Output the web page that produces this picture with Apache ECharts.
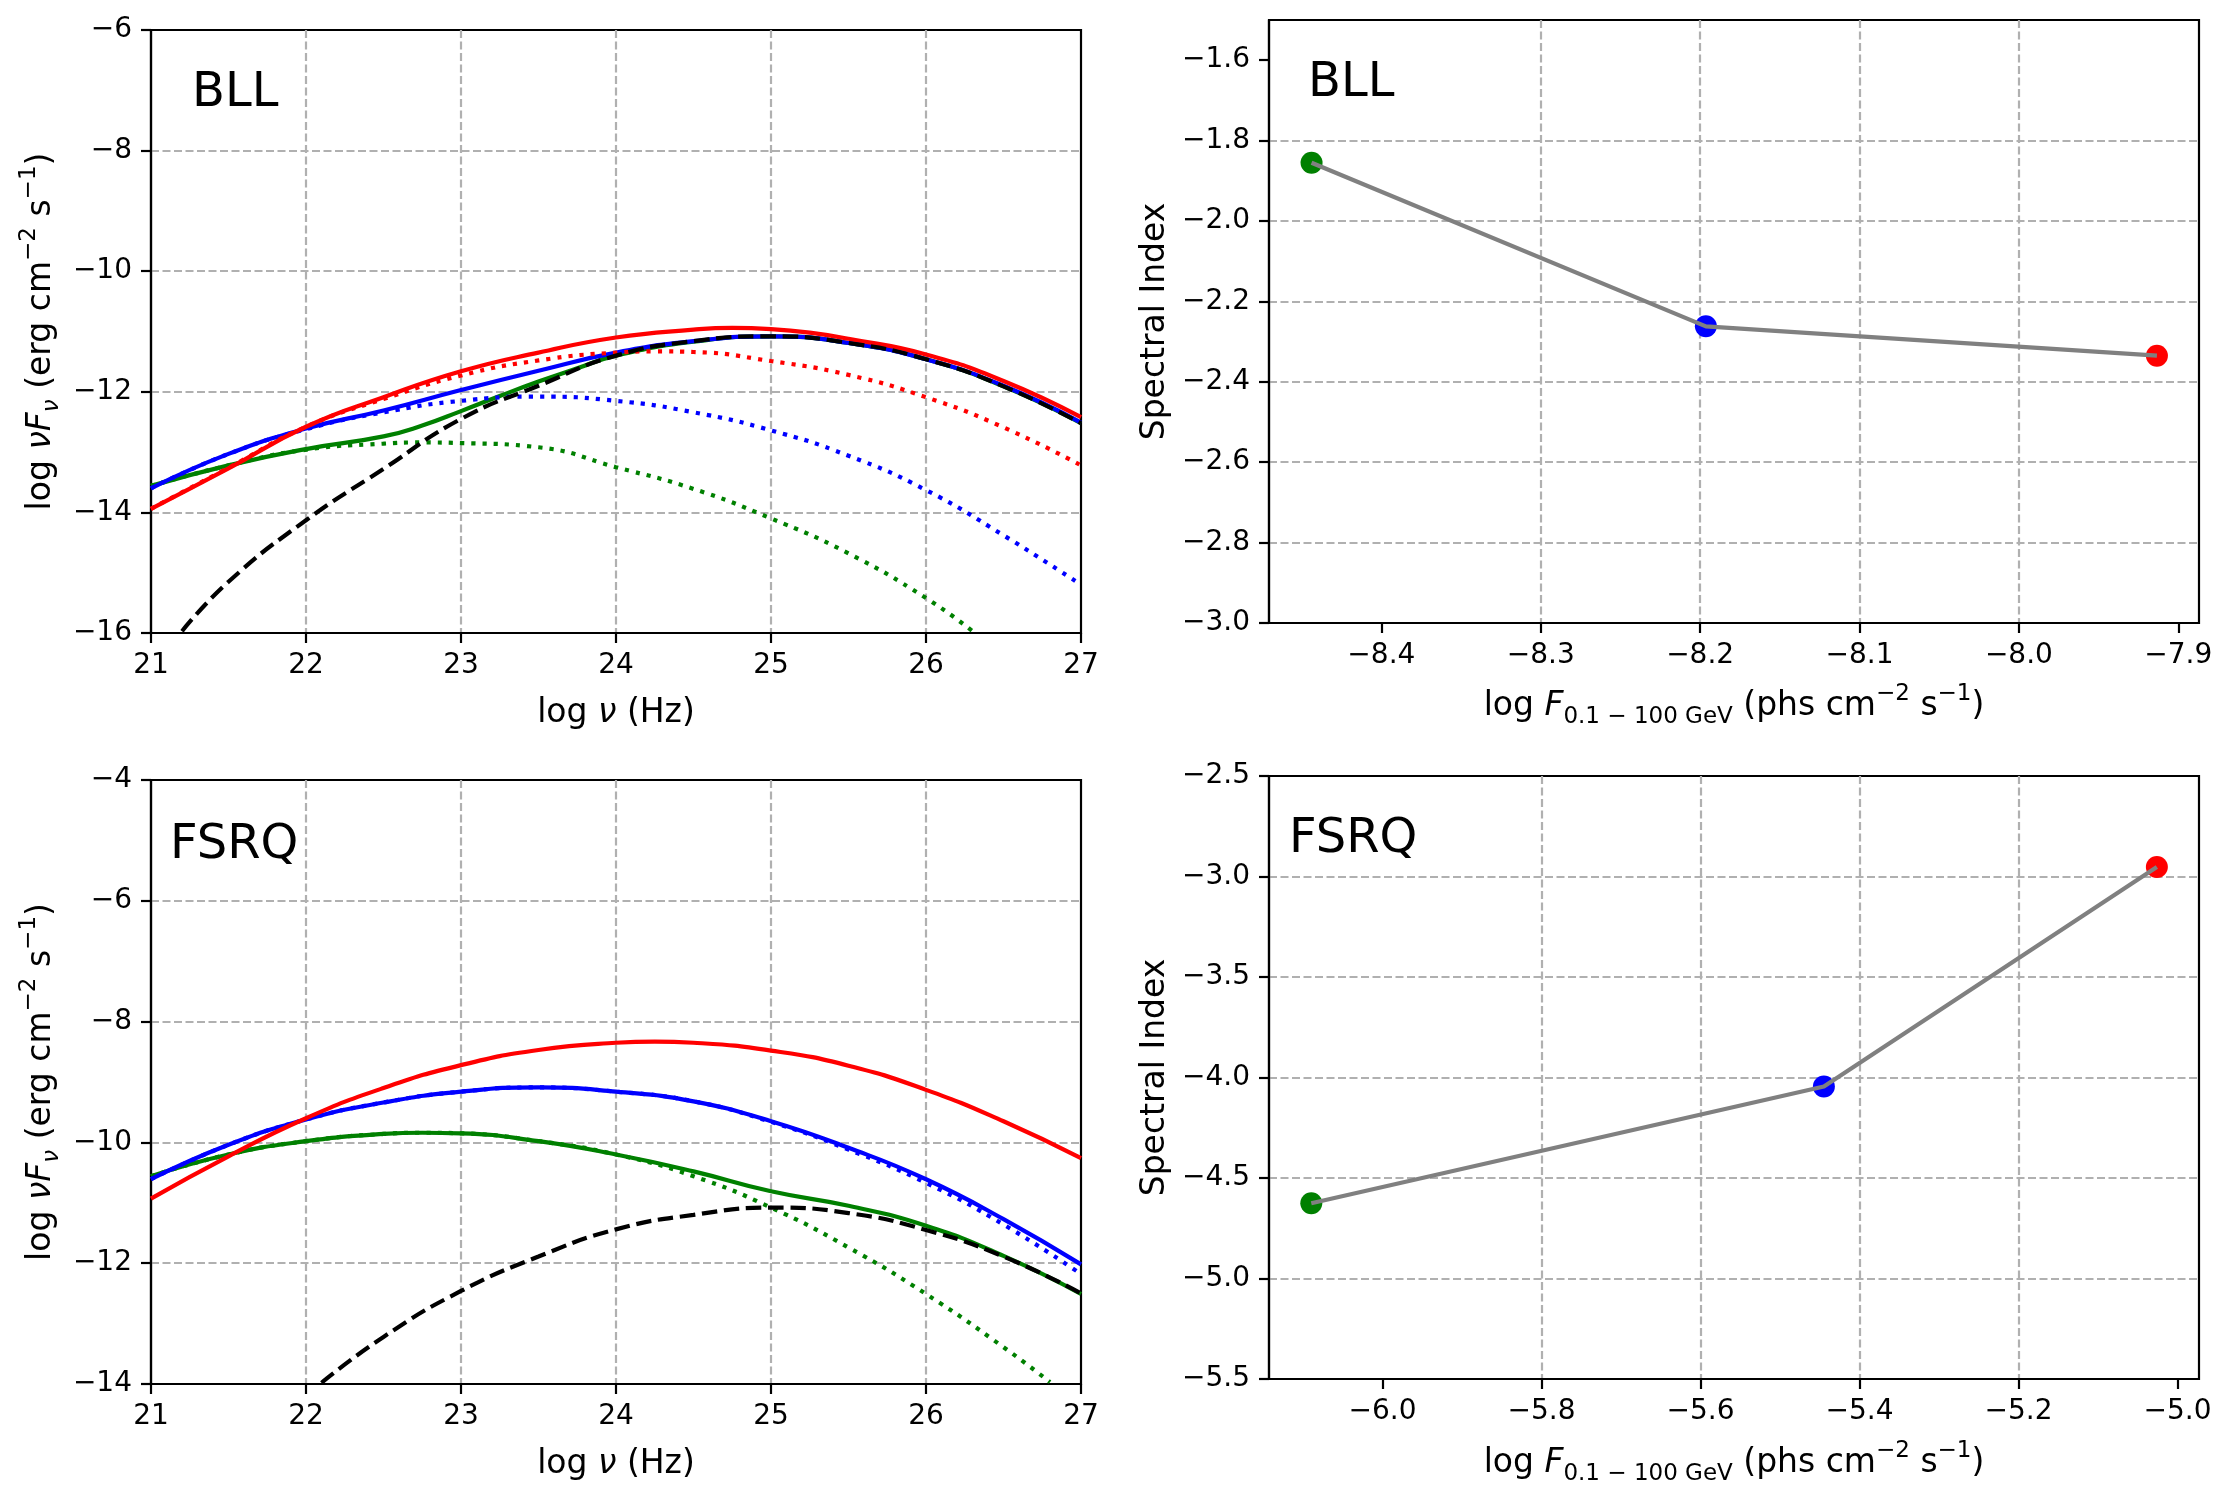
<!DOCTYPE html>
<html>
<head>
<meta charset="utf-8">
<script src="https://cdn.jsdelivr.net/npm/echarts@6/dist/echarts.min.js"></script>
<style>
html,body{margin:0;padding:0;background:#ffffff;}
#chart{width:2231px;height:1500px;}
</style>
</head>
<body>
<div id="chart"></div>
<script>
// ---------------- DATA ----------------
// log nu grid (Hz) used for most SED curves
const nu = [21, 21.5, 22, 22.5, 23, 23.5, 24, 24.5, 25, 25.5, 26, 26.5, 27];

// BLL SED curves (log nuFnu)
const bllRedTotalNu = [21, 21.5, 22, 22.5, 23, 23.5, 24, 24.5, 24.75, 25, 25.25, 25.5, 26, 26.5, 27];
const bllRedTotal   = [-13.94, -13.27, -12.58, -12.09, -11.66, -11.35, -11.10, -10.97, -10.94, -10.96, -11.02, -11.12, -11.38, -11.82, -12.42];
const bllRedSyncNu  = [21, 21.5, 22, 22.5, 23, 23.5, 24, 24.25, 24.5, 25, 25.5, 26, 26.5, 27];
const bllRedSync    = [-13.94, -13.26, -12.58, -12.12, -11.73, -11.48, -11.35, -11.33, -11.34, -11.49, -11.72, -12.09, -12.59, -13.22];
const bllBlueTotal  = [-13.60, -13.03, -12.61, -12.31, -11.97, -11.65, -11.35, -11.16, -11.08, -11.19, -11.46, -11.90, -12.51];
const bllBlueSync   = [-13.60, -13.03, -12.62, -12.34, -12.15, -12.08, -12.15, -12.34, -12.64, -13.06, -13.63, -14.38, -15.20];
const bllGreenTotalNu = [21, 21.5, 22, 22.5, 22.75, 23, 23.25, 23.5, 23.75, 24, 24.5, 25, 25.5, 26, 26.5, 27];
const bllGreenTotal = [-13.56, -13.22, -12.95, -12.74, -12.56, -12.32, -12.07, -11.83, -11.61, -11.40, -11.17, -11.08, -11.19, -11.46, -11.91, -12.52];
const bllGreenSyncNu = [21, 21.5, 22, 22.5, 22.75, 23, 23.5, 24, 24.5, 25, 25.5, 26, 26.3];
const bllGreenSync  = [-13.56, -13.22, -12.96, -12.86, -12.84, -12.85, -12.92, -13.25, -13.61, -14.10, -14.68, -15.42, -15.97];
const bllBlackNu    = [21.2, 21.5, 22, 22.5, 23, 23.5, 24, 24.5, 25, 25.5, 26, 26.5, 27];
const bllBlack      = [-15.97, -15.15, -14.13, -13.28, -12.45, -11.90, -11.40, -11.16, -11.08, -11.19, -11.46, -11.91, -12.52];

// FSRQ SED curves (log nuFnu)
const fsrqRedTotalNu = [21, 21.5, 22, 22.5, 23, 23.5, 24, 24.25, 24.5, 25, 25.5, 26, 26.5, 27];
const fsrqRedTotal  = [-10.93, -10.23, -9.60, -9.10, -8.72, -8.47, -8.35, -8.33, -8.35, -8.48, -8.73, -9.13, -9.65, -10.26];
const fsrqBlueTotal = [-10.61, -10.04, -9.62, -9.34, -9.16, -9.09, -9.16, -9.32, -9.65, -10.09, -10.61, -11.27, -12.02];
const fsrqBlueSync  = [-10.61, -10.04, -9.62, -9.34, -9.16, -9.09, -9.16, -9.32, -9.66, -10.12, -10.67, -11.36, -12.18];
const fsrqGreenTotalNu = [21, 21.5, 22, 22.5, 22.75, 23, 23.5, 24, 24.5, 25, 25.5, 26, 26.5, 27];
const fsrqGreenTotal= [-10.56, -10.20, -9.98, -9.86, -9.84, -9.85, -9.98, -10.20, -10.48, -10.81, -11.05, -11.38, -11.88, -12.51];
const fsrqGreenSyncNu = [21, 21.5, 22, 22.5, 22.75, 23, 23.5, 24, 24.5, 25, 25.5, 26, 26.5, 26.8];
const fsrqGreenSync = [-10.56, -10.20, -9.98, -9.86, -9.84, -9.85, -9.98, -10.20, -10.56, -11.08, -11.74, -12.51, -13.39, -13.97];
const fsrqBlackNu   = [22.1, 22.5, 23, 23.5, 24, 24.5, 25, 25.5, 26, 26.5, 27];
const fsrqBlack     = [-13.98, -13.22, -12.46, -11.89, -11.44, -11.20, -11.08, -11.17, -11.45, -11.89, -12.50];

// Spectral index vs gamma-ray flux
const bllFlux   = [-8.4438, -8.1964, -7.9134];
const bllIndex  = [-1.855, -2.262, -2.335];
const fsrqFlux  = [-6.0895, -5.4448, -5.026];
const fsrqIndex = [-4.626, -4.045, -2.953];
const stateColors = ['#008000', '#0000ff', '#ff0000'];

// tick labels (values) for the right-hand panels
const bllFluxTicks  = [-8.4, -8.3, -8.2, -8.1, -8.0, -7.9];
const bllIndexTicks = [-3.0, -2.8, -2.6, -2.4, -2.2, -2.0, -1.8, -1.6];
const fsrqFluxTicks = [-6.0, -5.8, -5.6, -5.4, -5.2, -5.0];
const panelTitles = ['BLL', 'BLL', 'FSRQ', 'FSRQ'];

// ---------------- HELPERS ----------------
const FONT = '"DejaVu Sans", "Liberation Sans", sans-serif';
const pairs = (xs, ys) => xs.map((x, i) => [x, ys[i]]);
const minus = s => s.replace('-', '\u2212');
const fmtInt = v => minus(String(Math.round(v)));
const fmt1 = v => minus((Math.round(v * 10) / 10).toFixed(1));

const rich = {
  n:    {fontSize: 33, fontFamily: FONT, color: '#000', lineHeight: 46},
  i:    {fontSize: 33, fontFamily: FONT, color: '#000', lineHeight: 46, fontStyle: 'italic'},
  sub:  {fontSize: 23, fontFamily: FONT, color: '#000', lineHeight: 24, verticalAlign: 'bottom'},
  subi: {fontSize: 23, fontFamily: FONT, color: '#000', lineHeight: 24, verticalAlign: 'bottom', fontStyle: 'italic'},
  sup:  {fontSize: 23, fontFamily: FONT, color: '#000', lineHeight: 26, verticalAlign: 'top'}
};
const nameStyle = {fontSize: 33, fontFamily: FONT, color: '#000', lineHeight: 46, rich: rich};

const LW = 2.2;
function axis(o) {
  const a = {
    type: 'value',
    gridIndex: o.grid,
    min: o.min, max: o.max,
    scale: true,
    axisLine: {show: true, onZero: false, lineStyle: {color: '#000', width: LW}},
    axisTick: {show: true, inside: false, length: 10, lineStyle: {color: '#000', width: LW}},
    axisLabel: {show: true, fontSize: 28, fontFamily: FONT, color: '#000', margin: 19, formatter: o.fmt,
                showMinLabel: true, showMaxLabel: true, hideOverlap: false},
    splitLine: {show: true, showMinLine: false, showMaxLine: false,
                lineStyle: {color: '#b0b0b0', width: LW, type: [8, 3.5]}},
    name: o.name, nameLocation: 'middle', nameGap: o.gap, nameRotate: o.rotate || 0,
    nameTextStyle: nameStyle
  };
  if (o.interval !== undefined) a.interval = o.interval;
  if (o.ticks) {
    a.axisTick.customValues = o.ticks;
    a.axisLabel.customValues = o.ticks;
  }
  return a;
}

const sedX = '{n|log }{i|ν}{n| (Hz)}';
const sedY = '{n|log }{i|νF}{subi|ν}{n| (erg cm}{sup|−2}{n| s}{sup|−1}{n|)}';
const fluxX = '{n|log }{i|F}{sub|0.1 − 100 GeV}{n| (phs cm}{sup|−2}{n| s}{sup|−1}{n|)}';
const idxY = '{n|Spectral Index}';

const grids = [
  {left: 151, top: 30, width: 930, height: 603},
  {left: 1269, top: 20, width: 930, height: 603},
  {left: 151, top: 780, width: 930, height: 604},
  {left: 1269, top: 776, width: 930, height: 603}
].map(g => Object.assign({show: true, borderColor: '#000', borderWidth: LW, backgroundColor: 'transparent',
                          containLabel: false, outerBoundsMode: 'none'}, g));

const xAxes = [
  axis({grid: 0, min: 21, max: 27, interval: 1, fmt: fmtInt, name: sedX, gap: 57}),
  axis({grid: 1, min: -8.4705, max: -7.887, ticks: bllFluxTicks, fmt: fmt1, name: fluxX, gap: 60}),
  axis({grid: 2, min: 21, max: 27, interval: 1, fmt: fmtInt, name: sedX, gap: 57}),
  axis({grid: 3, min: -6.1427, max: -4.973, ticks: fsrqFluxTicks, fmt: fmt1, name: fluxX, gap: 61})
];
const yAxes = [
  axis({grid: 0, min: -16, max: -6, interval: 2, fmt: fmtInt, name: sedY, gap: 87, rotate: 90}),
  axis({grid: 1, min: -3.0, max: -1.5, ticks: bllIndexTicks, fmt: fmt1, name: idxY, gap: 91, rotate: 90}),
  axis({grid: 2, min: -14, max: -4, interval: 2, fmt: fmtInt, name: sedY, gap: 87, rotate: 90}),
  axis({grid: 3, min: -5.5, max: -2.5, interval: 0.5, fmt: fmt1, name: idxY, gap: 91, rotate: 90})
];

const SOLID = 'solid', DOT = [4.2, 7], DASH = [15.5, 6.7];
function curve(g, xs, ys, color, type) {
  return {
    type: 'line', xAxisIndex: g, yAxisIndex: g,
    data: pairs(xs, ys), showSymbol: false, symbol: 'none', smooth: 0.5,
    clip: true, silent: true,
    lineStyle: {color: color, width: 4.2, type: type, cap: 'butt'}
  };
}

const series = [
  curve(0, bllGreenTotalNu, bllGreenTotal, '#008000', SOLID),
  curve(0, bllGreenSyncNu, bllGreenSync, '#008000', DOT),
  curve(0, nu, bllBlueTotal, '#0000ff', SOLID),
  curve(0, nu, bllBlueSync, '#0000ff', DOT),
  curve(0, bllRedTotalNu, bllRedTotal, '#ff0000', SOLID),
  curve(0, bllRedSyncNu, bllRedSync, '#ff0000', DOT),
  curve(0, bllBlackNu, bllBlack, '#000000', DASH),

  curve(2, fsrqGreenTotalNu, fsrqGreenTotal, '#008000', SOLID),
  curve(2, fsrqGreenSyncNu, fsrqGreenSync, '#008000', DOT),
  curve(2, nu, fsrqBlueTotal, '#0000ff', SOLID),
  curve(2, nu, fsrqBlueSync, '#0000ff', DOT),
  curve(2, fsrqRedTotalNu, fsrqRedTotal, '#ff0000', SOLID),
  curve(2, fsrqBlackNu, fsrqBlack, '#000000', DASH)
];

function indexPanel(g, xs, ys) {
  series.push({
    type: 'scatter', xAxisIndex: g, yAxisIndex: g, symbolSize: 22, silent: true,
    data: pairs(xs, ys),
    itemStyle: {color: p => stateColors[p.dataIndex], opacity: 1}
  });
  series.push({
    type: 'line', xAxisIndex: g, yAxisIndex: g, data: pairs(xs, ys), showSymbol: false, symbol: 'none',
    silent: true, lineStyle: {color: '#808080', width: 4.2}
  });
}
indexPanel(1, bllFlux, bllIndex);
indexPanel(3, fsrqFlux, fsrqIndex);

const titlePos = [[192, 70], [1308, 60], [170, 822], [1289, 816]];
const graphic = panelTitles.map((t, k) => ({
  type: 'text', left: titlePos[k][0], top: titlePos[k][1], z: 100,
  style: {text: t, fill: '#000', font: '48px ' + FONT}
}));

const chart = echarts.init(document.getElementById('chart'), null, {renderer: 'canvas'});
chart.setOption({
  animation: false,
  backgroundColor: '#ffffff',
  grid: grids,
  xAxis: xAxes,
  yAxis: yAxes,
  series: series,
  graphic: graphic
});
</script>
</body>
</html>
